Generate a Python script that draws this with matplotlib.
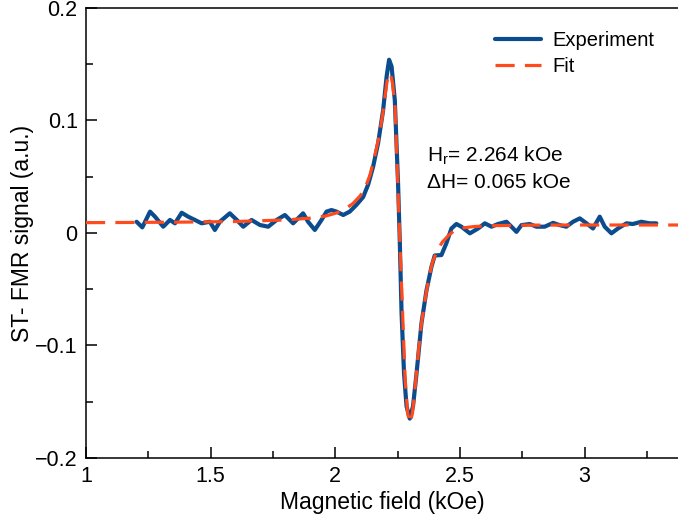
import numpy as np
import matplotlib
matplotlib.use('Agg')
import matplotlib.pyplot as plt
from matplotlib.ticker import MultipleLocator

plt.rcParams['font.family'] = ['Liberation Sans', 'DejaVu Sans']

# measured ST-FMR trace (field in kOe, signal in a.u.)
exp_field = [1.203, 1.226, 1.257, 1.277, 1.310, 1.337, 1.357, 1.384, 1.410, 1.437,
             1.464, 1.497, 1.517, 1.537, 1.577, 1.605, 1.631, 1.664, 1.698, 1.731,
             1.765, 1.798, 1.831, 1.871, 1.891, 1.918, 1.945, 1.965, 1.985, 2.005,
             2.032, 2.058, 2.085, 2.112, 2.132, 2.152, 2.172, 2.192, 2.206, 2.216,
             2.226, 2.239, 2.252, 2.259, 2.266, 2.276, 2.286, 2.299, 2.312, 2.326,
             2.346, 2.366, 2.386, 2.399, 2.426, 2.446, 2.466, 2.486, 2.506, 2.540,
             2.573, 2.600, 2.627, 2.653, 2.687, 2.707, 2.727, 2.747, 2.780, 2.807,
             2.840, 2.874, 2.900, 2.927, 2.954, 2.981, 3.008, 3.034, 3.061, 3.081,
             3.108, 3.134, 3.168, 3.194, 3.228, 3.261, 3.288]
exp_signal = [0.010, 0.005, 0.019, 0.0145, 0.0056, 0.0116, 0.0086, 0.018, 0.0145, 0.0116,
              0.0086, 0.010, 0.0027, 0.010, 0.0175, 0.0116, 0.0056, 0.0116, 0.0071, 0.0056,
              0.0116, 0.016, 0.0086, 0.0175, 0.010, 0.0027, 0.0116, 0.019, 0.0204, 0.019,
              0.016, 0.019, 0.025, 0.032, 0.043, 0.059, 0.080, 0.109, 0.139, 0.154,
              0.148, 0.118, 0.044, -0.008, -0.071, -0.125, -0.154, -0.165, -0.154, -0.125,
              -0.080, -0.051, -0.030, -0.020, -0.0196, -0.009, 0.004, 0.008, 0.0056, -0.0003,
              0.004, 0.0086, 0.0056, 0.008, 0.010, 0.0056, 0.001, 0.007, 0.008, 0.0056,
              0.0056, 0.009, 0.007, 0.0056, 0.010, 0.013, 0.0086, 0.004, 0.0145, 0.0056,
              -0.0003, 0.004, 0.0086, 0.008, 0.010, 0.0086, 0.0086]

# fitted lineshape sampled along the field axis
fit_field = [1.00, 1.20, 1.40, 1.60, 1.80, 1.90, 1.96, 2.00, 2.03, 2.07,
             2.10, 2.12, 2.14, 2.16, 2.175, 2.19, 2.20, 2.208, 2.215, 2.222,
             2.23, 2.24, 2.25, 2.26, 2.27, 2.28, 2.29, 2.30, 2.31, 2.32,
             2.333, 2.346, 2.36, 2.375, 2.39, 2.41, 2.43, 2.455, 2.48, 2.51,
             2.56, 2.65, 2.80, 3.00, 3.20, 3.375]
fit_signal = [0.0092, 0.0094, 0.0097, 0.0102, 0.0116, 0.0132, 0.0150, 0.0175, 0.0200, 0.0260,
              0.0330, 0.0400, 0.0520, 0.0700, 0.0850, 0.1050, 0.1220, 0.1350, 0.1420, 0.1410,
              0.1330, 0.1120, 0.0500, -0.0120, -0.0700, -0.1280, -0.1600, -0.1690, -0.1600, -0.1380,
              -0.1070, -0.0800, -0.0600, -0.0400, -0.0260, -0.0150, -0.0080, -0.0020, 0.0025, 0.0045,
              0.0058, 0.0066, 0.0070, 0.0071, 0.0071, 0.0071]

hr_value = 2.264
dh_value = 0.065

fig = plt.figure(figsize=(6.78, 5.23), dpi=100)
ax = fig.add_axes([0.1268, 0.1243, 0.8732, 0.8604])

ax.plot(exp_field, exp_signal, color='#0b4c8f', lw=3.0, solid_joinstyle='round',
        solid_capstyle='round', label='Experiment', zorder=2)
ax.plot(fit_field, fit_signal, color='#ff4a1c', lw=2.3, dashes=(6, 3.2),
        label='Fit', zorder=3)

ax.set_xlim(1, 3.375)
ax.set_ylim(-0.2, 0.2)
ax.xaxis.set_minor_locator(MultipleLocator(0.25))
ax.yaxis.set_minor_locator(MultipleLocator(0.05))
ax.set_xticks([1, 1.5, 2, 2.5, 3])
ax.set_xticklabels(['1', '1.5', '2', '2.5', '3'])
ax.set_yticks([-0.2, -0.1, 0, 0.1, 0.2])
ax.set_yticklabels(['\u22120.2', '\u22120.1', '0', '0.1', '0.2'])

ax.tick_params(which='both', direction='in', width=1.1, labelsize=15.5, pad=6)
ax.tick_params(which='major', length=8)
ax.tick_params(which='minor', length=5)
ax.spines['right'].set_visible(False)
for side in ('left', 'bottom', 'top'):
    ax.spines[side].set_linewidth(1.1)

ax.set_xlabel('Magnetic field (kOe)', fontsize=16.5, labelpad=3)
ax.set_ylabel('ST- FMR signal (a.u.)', fontsize=16.5, labelpad=1)

ax.text(2.37, 0.069, 'H$_\\mathregular{r}$= %.3f kOe' % hr_value, fontsize=15,
        va='center', ha='left')
ax.text(2.37, 0.045, '\u0394H= %.3f kOe' % dh_value, fontsize=15,
        va='center', ha='left')

ax.legend(loc='upper right', frameon=False, fontsize=14.5, handlelength=2.25,
          handletextpad=0.6, labelspacing=0.35, borderaxespad=0.75)

fig.savefig('out.png', dpi=100)
